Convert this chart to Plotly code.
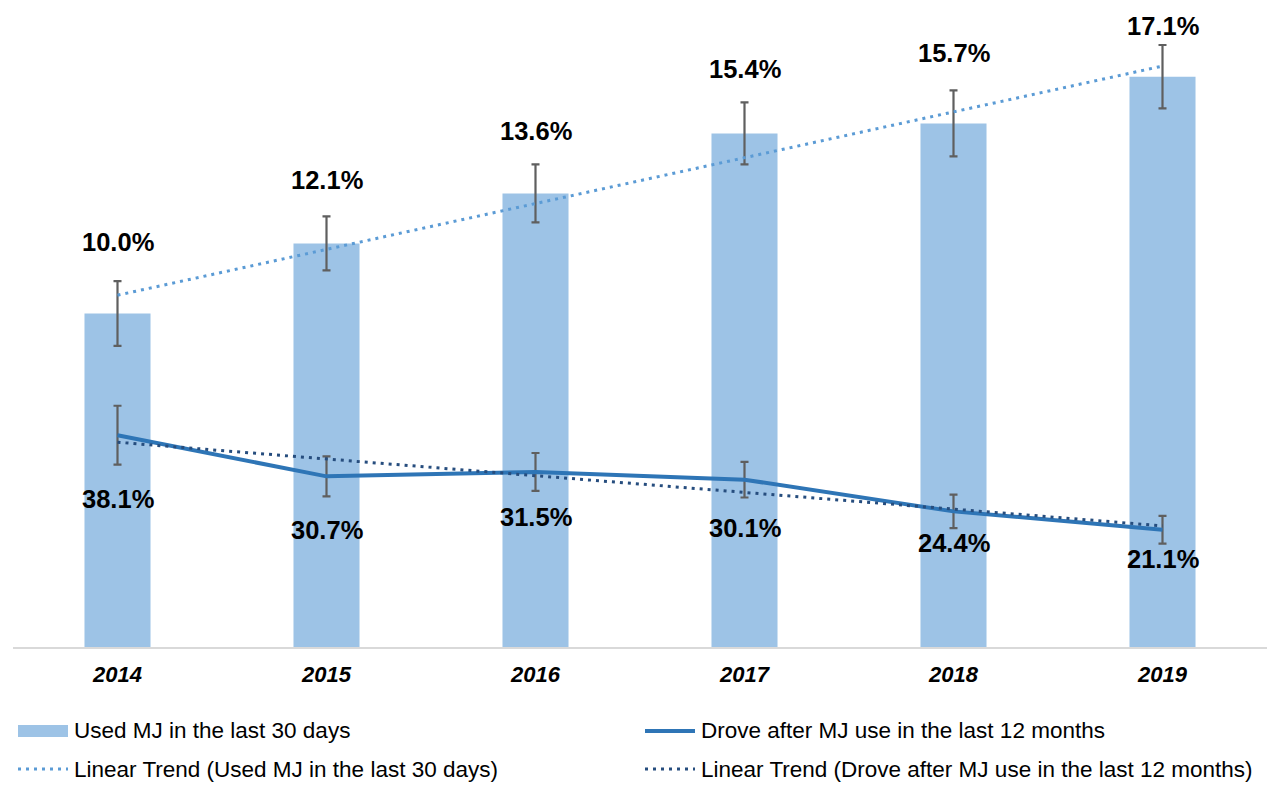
import numpy as np
import plotly.graph_objects as go

# ---------------- data ----------------
years = ["2014", "2015", "2016", "2017", "2018", "2019"]
used_30d = [10.0, 12.1, 13.6, 15.4, 15.7, 17.1]          # % (bars)
used_30d_err = [0.97, 0.81, 0.87, 0.93, 0.99, 0.95]      # +/- %
drove_12m = [38.1, 30.7, 31.5, 30.1, 24.4, 21.1]         # % (line)
drove_12m_err = [5.3, 3.6, 3.4, 3.2, 3.0, 2.5]           # +/- %

bar_name = "Used MJ in the last 30 days"
line_name = "Drove after MJ use in the last 12 months"
bar_trend_name = "Linear Trend (Used MJ in the last 30 days)"
line_trend_name = "Linear Trend (Drove after MJ use in the last 12 months)"

# linear trend (least squares fit) of each series
idx = np.arange(len(years))
bar_fit = np.polyval(np.polyfit(idx, used_30d, 1), idx)
line_fit = np.polyval(np.polyfit(idx, drove_12m, 1), idx)

# ---------------- style ----------------
W, H = 1267, 794
L, R, T, B = 13, 0, 0, 147
FONT = "Liberation Sans, Arial, sans-serif"
BAR_C = "#9DC3E6"
LINE_C = "#2E75B6"
BAR_TREND_C = "#5B9BD5"
LINE_TREND_C = "#264D7E"
ERR_C = "#5F5F5F"
Y1_MAX = 19.4
Y2_MAX = Y1_MAX * 6

# label offsets in pixels (layout only)
bar_label_shift = [71, 63, 62, 64, 70, 51]
line_label_shift = [64, 54, 45, 48, 32, 29]

fig = go.Figure()

fig.add_trace(go.Bar(
    x=years, y=used_30d, name=bar_name, width=0.316,
    marker=dict(color=BAR_C, line=dict(width=0)),
    error_y=dict(type="data", array=used_30d_err, visible=True,
                 color=ERR_C, thickness=2.2, width=4),
    yaxis="y", showlegend=False,
))

fig.add_trace(go.Scatter(
    x=years, y=drove_12m, name=line_name, mode="lines",
    line=dict(color=LINE_C, width=4),
    error_y=dict(type="data", array=drove_12m_err, visible=True,
                 color=ERR_C, thickness=2.2, width=4),
    yaxis="y2", showlegend=False,
))

fig.add_trace(go.Scatter(
    x=years, y=bar_fit, name=bar_trend_name, mode="lines",
    line=dict(color=BAR_TREND_C, width=3, dash="3px,5px"),
    yaxis="y", showlegend=False,
))

fig.add_trace(go.Scatter(
    x=years, y=line_fit, name=line_trend_name, mode="lines",
    line=dict(color=LINE_TREND_C, width=3, dash="3px,5px"),
    yaxis="y2", showlegend=False,
))

annotations = []
for i, (v, s) in enumerate(zip(used_30d, bar_label_shift)):
    annotations.append(dict(
        x=i, y=v, xref="x", yref="y", text=f"{v:.1f}%", showarrow=False,
        yshift=s, yanchor="middle", xanchor="center",
        font=dict(family=FONT, size=25.5, color="black", weight="bold"),
    ))
for i, (v, s) in enumerate(zip(drove_12m, line_label_shift)):
    annotations.append(dict(
        x=i, y=v, xref="x", yref="y2", text=f"{v:.1f}%", showarrow=False,
        yshift=-s, yanchor="middle", xanchor="center",
        font=dict(family=FONT, size=25.5, color="black", weight="bold"),
    ))

# ---------------- manual legend ----------------
plot_w = W - L - R
plot_h = H - T - B


def px(xp):
    return (xp - L) / plot_w


def py(yp):
    return (H - B - yp) / plot_h


legend_items = [
    (bar_name, 18, 731, "rect", BAR_C),
    (line_name, 645, 731, "solid", LINE_C),
    (bar_trend_name, 18, 769, "dot", BAR_TREND_C),
    (line_trend_name, 645, 769, "dot", LINE_TREND_C),
]
shapes = []
for name, x0, yc, kind, col in legend_items:
    if kind == "rect":
        shapes.append(dict(type="rect", xref="paper", yref="paper",
                           x0=px(x0), x1=px(x0 + 50), y0=py(yc - 6), y1=py(yc + 6),
                           fillcolor=col, line=dict(width=0)))
    else:
        shapes.append(dict(type="line", xref="paper", yref="paper",
                           x0=px(x0), x1=px(x0 + 50), y0=py(yc), y1=py(yc),
                           line=dict(color=col, width=4 if kind == "solid" else 3,
                                     dash="solid" if kind == "solid" else "3px,5px")))
    annotations.append(dict(
        x=px(x0 + 54), y=py(yc), xref="paper", yref="paper", text=name,
        showarrow=False, xanchor="left", yanchor="middle",
        font=dict(family=FONT, size=22.5, color="black"),
    ))

fig.update_layout(
    width=W, height=H, autosize=False,
    margin=dict(l=L, r=R, t=T, b=B, pad=0),
    paper_bgcolor="white", plot_bgcolor="white",
    font=dict(family=FONT, color="black"),
    xaxis=dict(
        type="category", range=[-0.5, len(years) - 0.5],
        showgrid=False, zeroline=False,
        showline=True, linecolor="#D9D9D9", linewidth=1.5,
        ticks="", ticklabelstandoff=7,
        tickfont=dict(family=FONT, size=22, color="black",
                      weight="bold", style="italic"),
    ),
    yaxis=dict(range=[0, Y1_MAX], visible=False, showgrid=False, zeroline=False),
    yaxis2=dict(range=[0, Y2_MAX], overlaying="y", side="right",
                visible=False, showgrid=False, zeroline=False),
    annotations=annotations,
    shapes=shapes,
    showlegend=False,
)

fig.write_html(
    "out.html",
    config={"displayModeBar": False},
    post_script="document.body.style.margin='0';document.body.style.overflow='hidden';",
)
